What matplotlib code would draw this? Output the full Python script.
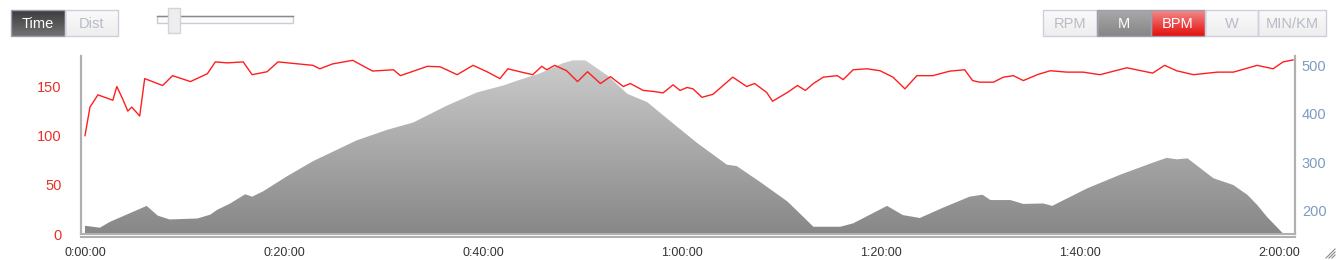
import numpy as np
import matplotlib
matplotlib.use("Agg")
import matplotlib.pyplot as plt
from matplotlib.patches import Rectangle
from matplotlib.ticker import FuncFormatter

plt.rcParams['font.family'] = ['Liberation Sans', 'DejaVu Sans']

# elevation profile (minutes, metres)
elev_t = [0, 1.5, 2.5, 6.2, 7.3, 8.5, 11.3, 12.6, 13.3, 14.6, 16.1, 16.8, 17.9, 20.3, 22.9,
          27.3, 30.4, 33.0, 36.4, 39.4, 42.0, 43.7, 45.7, 48.0, 49.0, 50.3, 52.5, 54.5, 56.5,
          58.8, 61.5, 64.5, 65.5, 67.8, 70.6, 73.2, 75.9, 77.2, 80.6, 82.2, 83.9, 86.2, 88.9,
          90.2, 91.0, 93.0, 94.3, 96.3, 97.2, 100.7, 104.0, 107.3, 108.7, 109.7, 110.8, 113.4,
          115.4, 116.8, 117.8, 118.8, 120.4]
elev_m = [169, 165, 177, 210, 190, 182, 184, 192, 202, 215, 234, 229, 240, 271, 302,
          345, 367, 382, 417, 444, 458, 470, 483, 504, 510, 510, 479, 441, 424,
          385, 340, 295, 292, 260, 219, 167, 167, 174, 210, 191, 185, 206, 229,
          233, 222, 222, 214, 215, 210, 246, 274, 299, 309, 306, 308, 267,
          253, 233, 212, 187, 153]

# heart rate (minutes, bpm)
bpm_t = [0, 0.5, 1.3, 2.8, 3.2, 3.8, 4.3, 4.7, 5.5, 6.0, 7.8, 8.8, 10.6, 12.3, 13.1, 14.3,
         15.9, 16.8, 18.3, 19.4, 22.9, 23.6, 24.9, 26.9, 28.9, 31.0, 31.7, 34.4, 35.7, 37.4,
         39.0, 40.4, 41.7, 42.5, 43.7, 45.0, 45.9, 46.4, 47.2, 48.4, 49.5, 50.5, 51.8, 52.8,
         54.1, 54.8, 56.1, 57.1, 58.1, 59.1, 59.8, 60.5, 61.1, 62.0, 63.1, 65.1, 66.5, 67.3,
         68.5, 69.1, 70.6, 71.6, 72.4, 73.2, 74.2, 75.6, 76.2, 77.2, 78.6, 79.9, 81.2, 82.4,
         83.6, 85.2, 86.9, 88.4, 89.2, 89.9, 91.3, 92.3, 93.3, 94.3, 95.7, 97.0, 98.7, 100.3,
         102.0, 104.7, 107.3, 108.5, 109.7, 111.4, 113.8, 115.4, 117.8, 119.4, 120.4, 121.4]
bpm = [100, 129, 141.5, 136, 150, 137, 125, 129, 120, 158, 151, 161, 155, 163, 175, 174,
       175, 162, 165, 175, 171.5, 168, 173, 176.6, 165.7, 167, 161, 170.5, 170, 162,
       171.5, 165, 158, 168, 165, 162, 170.5, 167, 171.5, 166, 155, 165, 153, 160,
       150, 153, 146, 145, 143.5, 151.7, 146, 149, 147.6, 139, 142, 159.5, 150, 153,
       144, 135, 144, 151, 146, 153, 159.5, 161, 157, 167, 168, 166, 159.5, 147.6,
       161, 161, 165.6, 167, 156, 154.4, 154.4, 159.5, 161, 156, 162, 166, 164.6, 164.6,
       162, 169, 163.6, 171.5, 166, 162, 164.6, 164.6, 171.5, 168, 175, 177]

x_ticks = [0, 20, 40, 60, 80, 100, 120]
bpm_ticks = [0, 50, 100, 150]
elev_ticks = [200, 300, 400, 500]

fig = plt.figure(figsize=(13.38, 2.6), dpi=100)
ax = fig.add_axes([81 / 1338, 1 - 234 / 260, (1295 - 81) / 1338, (234 - 56) / 260])
ax2 = ax.twinx()
ax.set_zorder(ax2.get_zorder() + 1)
ax.patch.set_visible(False)

# elevation area with vertical gradient
xmin, xmax = -0.4, 121.6
emin, emax = 152, 519
poly = ax2.fill_between(elev_t, emin, elev_m, color='none', lw=0)
grad = np.linspace(0, 1, 256)[:, None]
c_bot = np.array([0.53, 0.53, 0.53])
c_top = np.array([0.80, 0.80, 0.80])
img = c_bot + grad[..., None] * (c_top - c_bot)
img = np.repeat(img, 2, axis=1)
im = ax2.imshow(img, extent=(xmin, xmax, emin, 512), origin='lower', aspect='auto', zorder=1)
im.set_clip_path(poly.get_paths()[0], transform=ax2.transData)
ax2.set_xlim(xmin, xmax)
ax2.set_ylim(emin, emax)

# heart rate line
ax.plot(bpm_t, bpm, color='#ff1e1e', lw=1.0, zorder=3)
ax.set_xlim(xmin, xmax)
ax.set_ylim(0, 181)

def hms(v, pos):
    m = int(round(v))
    return f"{m // 60}:{m % 60:02d}:00"

ax.set_xticks(x_ticks)
ax.xaxis.set_major_formatter(FuncFormatter(hms))
ax.set_yticks(bpm_ticks)
ax2.set_yticks(elev_ticks)
ax.tick_params(axis='x', length=0, pad=7, labelsize=9, labelcolor='#333333')
ax.tick_params(axis='y', length=0, pad=14, labelsize=10.5, labelcolor='#e8312b')
ax2.tick_params(axis='y', length=0, pad=5, labelsize=10.5, labelcolor='#7d9cc0')

for a in (ax, ax2):
    a.spines['top'].set_visible(False)
    for s in ('left', 'right', 'bottom'):
        a.spines[s].set_color('#b0b0b0')
        a.spines[s].set_linewidth(1.5)
ax.spines['bottom'].set_position(('outward', 2))

# right labels are cut off by the container edge
fig.add_artist(Rectangle((1326 / 1338, 1 - 230 / 260), 12 / 1338, 180 / 260,
                         transform=fig.transFigure, fc='white', ec='none', zorder=10))

# UI controls drawn in pixel coordinates
ui = fig.add_axes([0, 0, 1, 1], zorder=-1)
ui.set_xlim(0, 1338)
ui.set_ylim(260, 0)
ui.axis('off')
ui.set_autoscale_on(False)

def hexrgb(h):
    return np.array(matplotlib.colors.to_rgb(h))

def button(x0, x1, label, top, bot, tcolor, edge='#ccd0dc'):
    y0, y1 = 10, 36
    g = np.linspace(0, 1, 40)[:, None, None]
    arr = hexrgb(top) + g * (hexrgb(bot) - hexrgb(top))
    arr = np.repeat(arr, 2, axis=1)
    ui.imshow(arr, extent=(x0, x1, y1, y0), origin='upper', aspect='auto', zorder=1)
    ui.add_patch(Rectangle((x0, y0), x1 - x0, y1 - y0, fill=False, ec=edge, lw=1, zorder=2))
    ui.text((x0 + x1) / 2, (y0 + y1) / 2 + 1, label, ha='center', va='center',
            fontsize=10.5, color=tcolor, zorder=3)

light_top, light_bot, light_txt = '#fafafa', '#eeeeee', '#b9bcc6'
button(11, 65, 'Time', '#3c3c3c', '#727272', 'white', edge='#9aa0b0')
button(65, 118, 'Dist', light_top, light_bot, light_txt)
button(1043, 1097, 'RPM', light_top, light_bot, light_txt)
button(1097, 1151, 'M', '#a9a9a9', '#868686', 'white', edge='#9aa0b0')
button(1151, 1205, 'BPM', '#f38a8a', '#e4100e', 'white', edge='#9aa0b0')
button(1205, 1258, 'W', light_top, light_bot, light_txt)
button(1258, 1326, 'MIN/KM', light_top, light_bot, light_txt)

# slider
ui.add_patch(Rectangle((157, 16), 136, 7, fc='#fbfbfb', ec='#c8ccd6', lw=1, zorder=1))
ui.plot([157, 293], [16, 16], color='#888888', lw=1, zorder=2)
ui.add_patch(Rectangle((168, 8), 12, 25, fc='#eeeeee', ec='#d0d4dc', lw=1, zorder=3))

# resize grip
for d in (3, 6, 9):
    ui.plot([1335 - d, 1335], [258, 258 - d], color='#888888', lw=0.8)

fig.savefig('out.png', dpi=100)
